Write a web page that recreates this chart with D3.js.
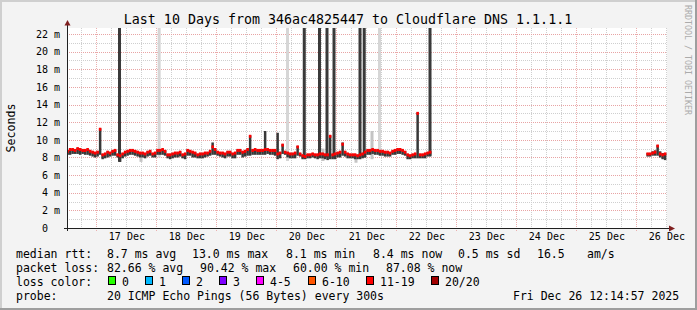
<!DOCTYPE html>
<html>
<head>
<meta charset="utf-8">
<script src="https://cdnjs.cloudflare.com/ajax/libs/d3/7.8.5/d3.min.js"></script>
<style>
  body { margin: 0; background: #f3f3f3; }
  svg text { font-family: "DejaVu Sans Mono", monospace; fill: #000; white-space: pre; }
</style>
</head>
<body>
<div id="chart"></div>
<script>
var svgWidth = 697;
var svgHeight = 310;

// plot box (rrdtool canvas)
var plot = { left: 67, top: 28, width: 600, height: 200 };

// ---- data ----
var parseTime = d3.timeParse("%Y-%m-%d %H:%M:%S");
var startTime = parseTime("2025-12-16 12:14:57");
var endTime = parseTime("2025-12-26 12:14:57");
var yMax = 22.68;

var dayLabels = ["17 Dec", "18 Dec", "19 Dec", "20 Dec", "21 Dec", "22 Dec", "23 Dec", "24 Dec", "25 Dec", "26 Dec"];
var yTicks = [0, 2, 4, 6, 8, 10, 12, 14, 16, 18, 20, 22];

// first block of data: 1 hour steps from 16 Dec 12:00 (ms)
var seg1Start = "2025-12-16 12:00:00";
var seg1Median = [
  8.7, 8.9, 8.9, 8.8, 9.0, 8.9, 8.8, 8.8, 8.9, 8.7,
  8.6, 8.5, 8.6, 11.2, 8.3, 8.4, 8.6, 8.5, 8.7, 8.8,
  8.3, 8.2, 8.4, 8.6, 8.7, 8.8, 8.8, 8.7, 8.6, 8.5,
  8.5, 8.4, 8.6, 8.7, 8.4, 8.5, 8.8, 8.8, 8.9, 8.7,
  8.3, 8.3, 8.4, 8.5, 8.5, 8.6, 8.3, 8.4, 8.8, 8.7,
  8.6, 8.5, 8.3, 8.4, 8.4, 8.5, 8.5, 8.7, 9.2, 8.9,
  8.6, 8.5, 8.5, 8.4, 8.6, 8.6, 8.4, 8.5, 8.8, 8.8,
  8.6, 8.7, 8.9, 10.4, 8.8, 8.9, 8.8, 8.8, 8.8, 8.9,
  8.9, 8.8, 8.8, 8.8, 8.4, 8.5, 9.4, 8.6, 8.5, 8.4,
  8.4, 8.5, 9.2, 8.4, 8.2, 8.1, 8.3, 8.3, 8.4, 8.3,
  8.3, 8.4, 8.4, 8.3, 8.3, 10.4, 8.3, 8.4, 8.5, 8.6,
  9.5, 8.6, 8.4, 8.3, 8.3, 8.3, 8.2, 8.3, 8.4, 8.6,
  8.8, 8.8, 8.9, 8.8, 8.8, 8.7, 8.7, 8.6, 8.6, 8.5,
  8.7, 8.8, 8.9, 8.9, 8.8, 8.6, 8.3, 8.2, 8.3, 8.4,
  13.0, 8.3, 8.3, 8.4, 8.5, 8.6
];
var seg1Lo = [
  8.3, 8.3, 8.4, 8.4, 8.4, 8.3, 8.4, 8.3, 8.3, 8.2,
  8.1, 8.0, 8.1, 8.3, 7.8, 7.9, 8.0, 8.1, 8.2, 8.2,
  8.0, 7.5, 7.9, 8.1, 8.2, 8.3, 8.3, 8.2, 8.1, 8.0,
  8.0, 7.9, 8.1, 8.2, 8.0, 8.0, 8.3, 8.3, 8.3, 8.2,
  7.9, 7.8, 7.9, 8.0, 8.0, 8.1, 7.9, 7.8, 8.2, 8.2,
  8.0, 8.0, 7.9, 7.9, 7.9, 8.0, 8.1, 8.2, 8.3, 8.3,
  8.2, 8.1, 8.0, 7.9, 8.1, 8.1, 7.9, 7.9, 8.3, 8.3,
  8.0, 8.1, 8.2, 8.2, 8.3, 8.3, 8.3, 8.3, 8.3, 8.3,
  8.4, 8.3, 8.3, 8.2, 7.8, 7.9, 8.4, 8.3, 8.0, 7.9,
  7.9, 7.9, 8.2, 8.1, 7.8, 7.8, 7.9, 7.9, 8.0, 7.9,
  7.8, 7.9, 7.9, 7.8, 7.7, 7.8, 7.8, 7.8, 8.0, 8.0,
  8.2, 8.1, 7.9, 7.9, 7.9, 7.8, 7.8, 7.8, 7.9, 8.0,
  8.3, 8.3, 8.4, 8.3, 8.3, 8.2, 8.2, 8.1, 8.1, 8.1,
  8.3, 8.3, 8.4, 8.4, 8.3, 8.2, 7.8, 7.8, 7.9, 7.9,
  7.9, 7.9, 7.9, 7.9, 8.1, 8.1
];
var seg1Hi = [
  8.8, 9.0, 9.0, 8.9, 9.1, 9.0, 8.9, 8.9, 9.0, 8.8,
  8.7, 8.6, 8.7, 11.3, 8.4, 8.5, 8.7, 8.6, 8.8, 8.9,
  8.4, 8.3, 8.5, 8.7, 8.8, 8.9, 8.9, 8.8, 8.7, 8.6,
  8.6, 8.5, 8.7, 8.8, 8.5, 8.6, 8.9, 8.9, 9.0, 8.8,
  8.4, 8.4, 8.5, 8.6, 8.6, 8.7, 8.4, 8.5, 8.9, 8.8,
  8.7, 8.6, 8.4, 8.5, 8.5, 8.6, 8.6, 8.8, 9.7, 9.0,
  8.7, 8.6, 8.6, 8.5, 8.7, 8.7, 8.5, 8.6, 8.9, 8.9,
  8.7, 8.8, 9.0, 10.5, 8.9, 9.0, 8.9, 8.9, 8.9, 11.0,
  9.0, 8.9, 8.9, 8.9, 10.8, 8.6, 9.5, 8.7, 8.6, 8.5,
  8.5, 8.6, 9.3, 8.5, 8.3, 8.2, 8.4, 8.4, 8.5, 8.4,
  8.4, 8.5, 8.5, 8.4, 8.4, 10.5, 8.4, 8.5, 8.6, 8.7,
  9.7, 8.7, 8.5, 8.4, 8.4, 8.4, 8.3, 8.4, 8.5, 8.7,
  8.9, 8.9, 9.0, 8.9, 8.9, 8.8, 8.8, 8.7, 8.7, 8.6,
  8.8, 8.9, 9.0, 9.0, 8.9, 8.7, 8.4, 8.3, 8.4, 8.5,
  13.1, 8.4, 8.4, 8.5, 8.6, 8.7
];

// second block of data on 26 Dec, 1 hour steps
var seg2Start = "2025-12-26 04:00:00";
var seg2Median = [8.4, 8.4, 8.5, 8.6, 9.3, 8.4, 8.3, 8.4];
var seg2Lo = [8.1, 8.1, 8.2, 8.2, 8.2, 8.0, 7.8, 7.7];
var seg2Hi = [8.5, 8.5, 8.7, 8.8, 9.4, 8.7, 8.5, 8.5];

// smoke bars that shoot past the top of the chart
var darkSpikeTimes = ["2025-12-17 09:15:00", "2025-12-20 11:09:00", "2025-12-20 17:15:00", "2025-12-20 20:15:00",
                      "2025-12-20 23:03:00", "2025-12-21 09:27:00", "2025-12-21 11:08:00", "2025-12-22 13:27:00"];
var darkSpikeLo = [7.5, 8.0, 8.0, 8.0, 8.0, 8.0, 8.0, 8.2];
var darkSpikeHi = [25, 25, 25, 25, 25, 25, 25, 25];

var lightSpikeTimes = ["2025-12-18 01:07:00", "2025-12-20 04:27:00", "2025-12-21 17:15:00"];
var lightSpikeLo = [8.0, 7.6, 8.2];
var lightSpikeHi = [25, 25, 25];

// fainter smoke
var greySmokeTimes = ["2025-12-17 17:51:00", "2025-12-20 18:39:00", "2025-12-21 07:51:00", "2025-12-21 14:15:00"];
var greySmokeLo = [7.5, 7.6, 7.4, 7.8];
var greySmokeHi = [8.3, 9.0, 8.3, 11.0];

var lossColors = ["#26ff00", "#00b8ff", "#0059ff", "#7e00ff", "#ff00ff", "#ff5500", "#ff0000", "#a10000"];
var lossLabels = ["0", "1", "2", "3", "4-5", "6-10", "11-19", "20/20"];

// ---- svg ----
var svg = d3.select("#chart")
    .append("svg")
    .attr("width", svgWidth)
    .attr("height", svgHeight);

// background with rrdtool shading
svg.append("rect").attr("width", svgWidth).attr("height", svgHeight).attr("fill", "#f3f3f3");
svg.append("rect").attr("x", 0).attr("y", 0).attr("width", svgWidth).attr("height", 2).attr("fill", "#cfcfcf");
svg.append("rect").attr("x", 0).attr("y", 0).attr("width", 2).attr("height", svgHeight).attr("fill", "#cfcfcf");
svg.append("rect").attr("x", 0).attr("y", svgHeight - 2).attr("width", svgWidth).attr("height", 2).attr("fill", "#9e9e9e");
svg.append("rect").attr("x", svgWidth - 2).attr("y", 0).attr("width", 2).attr("height", svgHeight).attr("fill", "#9e9e9e");

// scales
var xScale = d3.scaleTime()
    .domain([startTime, endTime])
    .range([plot.left, plot.left + plot.width]);

var yScale = d3.scaleLinear()
    .domain([0, yMax])
    .range([plot.top + plot.height, plot.top]);

// canvas
svg.append("rect")
    .attr("x", plot.left)
    .attr("y", plot.top)
    .attr("width", plot.width)
    .attr("height", plot.height)
    .attr("fill", "#ffffff");

svg.append("clipPath")
    .attr("id", "plotClip")
    .append("rect")
    .attr("x", plot.left)
    .attr("y", plot.top)
    .attr("width", plot.width)
    .attr("height", plot.height);

// grid
var gridGroup = svg.append("g").attr("fill", "none").attr("stroke-dasharray", "1,1");
var minorY = d3.range(1, 23).filter(d => d % 2 != 0);
var majorY = yTicks.filter(d => d > 0);
var minorX = d3.timeHour.every(6).range(startTime, endTime).filter(d => d.getHours() != 0);
var majorX = d3.timeDay.range(startTime, endTime);

gridGroup.selectAll(".minorY")
    .data(minorY)
    .enter()
    .append("line")
    .attr("x1", plot.left).attr("x2", plot.left + plot.width)
    .attr("y1", d => Math.round(yScale(d)) + 0.5)
    .attr("y2", d => Math.round(yScale(d)) + 0.5)
    .attr("stroke", "#cfcfcf");

gridGroup.selectAll(".minorX")
    .data(minorX)
    .enter()
    .append("line")
    .attr("y1", plot.top).attr("y2", plot.top + plot.height)
    .attr("x1", d => Math.round(xScale(d)) + 0.5)
    .attr("x2", d => Math.round(xScale(d)) + 0.5)
    .attr("stroke", "#cfcfcf");

gridGroup.selectAll(".majorY")
    .data(majorY)
    .enter()
    .append("line")
    .attr("x1", plot.left).attr("x2", plot.left + plot.width)
    .attr("y1", d => Math.round(yScale(d)) + 0.5)
    .attr("y2", d => Math.round(yScale(d)) + 0.5)
    .attr("stroke", "#e8a4a4");

gridGroup.selectAll(".majorX")
    .data(majorX)
    .enter()
    .append("line")
    .attr("y1", plot.top).attr("y2", plot.top + plot.height + 3)
    .attr("x1", d => Math.round(xScale(d)) + 0.5)
    .attr("x2", d => Math.round(xScale(d)) + 0.5)
    .attr("stroke", "#ebafaf");

// build hourly step records for each data block
function buildSteps(start, med, lo, hi) {
    var t0 = parseTime(start);
    return med.map(function(m, i) {
        return {
            t: d3.timeHour.offset(t0, i),
            t2: d3.timeHour.offset(t0, i + 1),
            med: m,
            lo: lo[i],
            hi: hi[i]
        };
    });
}
var blocks = [
    buildSteps(seg1Start, seg1Median, seg1Lo, seg1Hi),
    buildSteps(seg2Start, seg2Median, seg2Lo, seg2Hi)
];

var dataGroup = svg.append("g").attr("clip-path", "url(#plotClip)");

function bars(times, lo, hi, color) {
    dataGroup.append("g")
        .selectAll("rect")
        .data(times.map((t, i) => ({ t: parseTime(t), lo: lo[i], hi: hi[i] })))
        .enter()
        .append("rect")
        .attr("x", d => xScale(d.t) - 1.5)
        .attr("width", 3)
        .attr("y", d => yScale(d.hi))
        .attr("height", d => yScale(d.lo) - yScale(d.hi))
        .attr("fill", color);
}

// light smoke first
bars(lightSpikeTimes, lightSpikeLo, lightSpikeHi, "#d6d6d6");
bars(greySmokeTimes, greySmokeLo, greySmokeHi, "#c4c4c4");

// dark smoke
blocks.forEach(function(steps) {
    dataGroup.append("g")
        .selectAll("rect")
        .data(steps)
        .enter()
        .append("rect")
        .attr("x", d => xScale(d.t))
        .attr("width", d => xScale(d.t2) - xScale(d.t))
        .attr("y", d => yScale(d.hi))
        .attr("height", d => yScale(d.lo) - yScale(d.hi))
        .attr("fill", "#383838");
});
bars(darkSpikeTimes, darkSpikeLo, darkSpikeHi, "#3a3a3a");

// median rtt, a thin band per step like smokeping, coloured by loss (11-19 lost)
blocks.forEach(function(steps) {
    dataGroup.append("g")
        .selectAll("rect")
        .data(steps)
        .enter()
        .append("rect")
        .attr("x", d => xScale(d.t))
        .attr("width", d => xScale(d.t2) - xScale(d.t))
        .attr("y", d => yScale(d.med) - 1.5)
        .attr("height", 3)
        .attr("fill", lossColors[6]);
});

// axes
svg.append("line")
    .attr("x1", plot.left - 3).attr("x2", plot.left + plot.width + 3)
    .attr("y1", plot.top + plot.height + 0.5).attr("y2", plot.top + plot.height + 0.5)
    .attr("stroke", "#202020");
svg.append("line")
    .attr("x1", plot.left + 0.5).attr("x2", plot.left + 0.5)
    .attr("y1", plot.top + plot.height + 3).attr("y2", plot.top - 4)
    .attr("stroke", "#202020");
svg.append("path")
    .attr("d", "M669,225.5 L675,228.5 L669,231.5 Z")
    .attr("fill", "#7f1f1f");
svg.append("path")
    .attr("d", "M64.5,25.5 L67.5,20 L70.5,25.5 Z")
    .attr("fill", "#7f1f1f");

// y axis labels
var leftAxis = d3.axisLeft(yScale)
    .tickValues(yTicks)
    .tickSize(0)
    .tickPadding(7)
    .tickFormat(d => d == 0 ? "0\u00a0\u00a0" : d + " m");

svg.append("g")
    .attr("transform", `translate(${plot.left}, 0)`)
    .call(leftAxis)
    .call(g => g.select(".domain").remove())
    .selectAll("text")
    .style("font-family", "DejaVu Sans Mono, monospace")
    .style("font-size", "10px")
    .attr("fill", "#000");

// x axis labels, centred on noon
var labelTimes = dayLabels.map(function(s) {
    return d3.timeHour.offset(d3.timeParse("%d %b %Y")(s + " 2025"), 12);
});
var bottomAxis = d3.axisBottom(xScale)
    .tickValues(labelTimes)
    .tickSize(0)
    .tickPadding(5)
    .tickFormat((d, i) => dayLabels[i]);

svg.append("g")
    .attr("transform", `translate(0, ${plot.top + plot.height})`)
    .call(bottomAxis)
    .call(g => g.select(".domain").remove())
    .selectAll("text")
    .style("font-family", "DejaVu Sans Mono, monospace")
    .style("font-size", "10px")
    .attr("fill", "#000");

// title
svg.append("text")
    .attr("x", 348)
    .attr("y", 24)
    .attr("text-anchor", "middle")
    .style("font-size", "13.3px")
    .text("Last 10 Days from 346ac4825447 to Cloudflare DNS 1.1.1.1");

// y title
svg.append("text")
    .attr("transform", "translate(14.5, 128) rotate(-90)")
    .attr("text-anchor", "middle")
    .style("font-size", "11.6px")
    .text("Seconds");

// watermark
svg.append("text")
    .attr("transform", "translate(685, 5) rotate(90)")
    .style("font-size", "8.3px")
    .style("fill", "#ababab")
    .text("RRDTOOL / TOBI OETIKER");

// legend
var legendRows = [
    { y: 258, items: [[16, "median rtt:"], [107, "8.7 ms avg"], [192, "13.0 ms max"], [286, "8.1 ms min"],
                      [373, "8.4 ms now"], [458, "0.5 ms sd"], [537, "16.5"], [587, "am/s"]] },
    { y: 272, items: [[16, "packet loss:"], [107, "82.66 % avg"], [200, "90.42 % max"], [293, "60.00 % min"],
                      [386, "87.08 % now"]] },
    { y: 286, items: [[16, "loss color:"]] },
    { y: 300, items: [[16, "probe:"], [107, "20 ICMP Echo Pings (56 Bytes) every 300s"], [513, "Fri Dec 26 12:14:57 2025"]] }
];

legendRows.forEach(function(row) {
    svg.append("g")
        .selectAll("text")
        .data(row.items)
        .enter()
        .append("text")
        .attr("x", d => d[0])
        .attr("y", row.y)
        .style("font-size", "11.5px")
        .text(d => d[1]);
});

var boxX = [108, 145, 182, 219, 256, 308, 366, 431];
var lossLegend = svg.append("g")
    .selectAll("g")
    .data(lossLabels)
    .enter()
    .append("g");

lossLegend.append("rect")
    .attr("x", (d, i) => boxX[i] + 0.5)
    .attr("y", 276.5)
    .attr("width", 7)
    .attr("height", 8)
    .attr("fill", (d, i) => lossColors[i])
    .attr("stroke", "#000");

lossLegend.append("text")
    .attr("x", (d, i) => boxX[i] + 14)
    .attr("y", 286)
    .style("font-size", "11.5px")
    .text(d => d);
</script>
</body>
</html>
